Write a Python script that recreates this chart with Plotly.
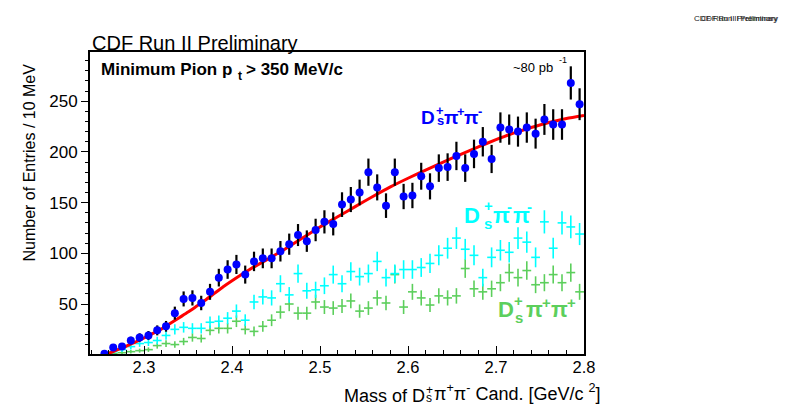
import numpy as np
import plotly.graph_objects as go

# ---------------- data ----------------
bin_low = 2.25          # GeV/c^2, lower edge of first bin
bin_width = 0.01        # 10 MeV bins
n_bins = 55
mass = [round(bin_low + bin_width * (k + 0.5), 3) for k in range(n_bins)]

# right-sign D_s+ pi+ pi-  (blue points)
ds_pip_pim = [1, 7, 8, 14, 17, 19, 24, 28, 41, 55,
              56, 51, 62, 76, 84, 89, 79, 92, 95, 95,
              102, 109, 118, 112, 123, 131, 129, 148, 153, 160,
              180, 165, 147, 180, 156, 157, 176, 166, 184, 185,
              196, 184, 198, 210, 193, 224, 222, 220, 224, 218,
              232, 227, 227, 268, 247]

# wrong-sign D_s+ pi- pi-  (cyan crosses)
ds_pim_pim = [0, 3, 5, 8, 11, 12, 14, 19, 25, 27,
              26, 26, 32, 33, 36, 43, 34, 52, 57, 56,
              70, 59, 80, 63, 64, 68, 79, 70, 82, 77,
              80, 92, 76, 80, 84, 84, 86, 90, 98, 105,
              115, 104, 98, 76, 96, 103, 101, 115, 111, 96,
              131, 105, 130, 126, 119]

# wrong-sign D_s+ pi+ pi+  (green crosses)
ds_pip_pip = [0, 1, 2, 3, 4, 5, 9, 11, 10, 13,
              17, 16, 24, 26, 26, 33, 25, 23, 28, 34,
              42, 50, 41, 41, 52, 47, 46, 48, 53, 43,
              46, 56, 51, 79, 47, 62, 56, 49, 58, 56,
              58, 85, 65, 62, 65, 71, 81, 76, 83, 69,
              71, 79, 71, 81, 62]

# background fit curve (red)
fit_mass = [2.252, 2.26, 2.27, 2.28, 2.29, 2.30, 2.31, 2.32, 2.33, 2.34,
            2.35, 2.36, 2.37, 2.38, 2.39, 2.40, 2.42, 2.44, 2.46, 2.48,
            2.50, 2.52, 2.54, 2.56, 2.58, 2.60, 2.62, 2.64, 2.66, 2.68,
            2.70, 2.72, 2.74, 2.76, 2.78, 2.80]
fit_value = [0, 1.5, 5, 8.5, 12.5, 16.5, 21, 25.5, 31, 36.5,
             42, 48, 54, 60.5, 67, 73, 84, 94, 104, 115,
             126, 136, 146, 156, 165.5, 174, 182, 190, 197.5, 205,
             212, 218.5, 224, 229, 233, 236]

x_tick_vals = [2.3, 2.4, 2.5, 2.6, 2.7, 2.8]
x_tick_text = ["2.3", "2.4", "2.5", "2.6", "2.7", "2.8"]
y_tick_vals = [50, 100, 150, 200, 250]
y_tick_text = ["50", "100", "150", "200", "250"]

# ---------------- styling ----------------
FONT = "Liberation Sans, Arial, Helvetica, sans-serif"
BLUE = "#0000ff"
CYAN = "#00ffff"
GREEN = "#5ccf5c"
RED = "#ff0000"

PAGE_OFF = 8                   # default body margin of the html page
W, H = 798 - PAGE_OFF, 405 - PAGE_OFF
L, R, T, B = 90, 584, 52, 354   # plot frame in window pixels

fig = go.Figure()

def cross_trace(vals, color):
    return go.Scatter(
        x=mass, y=vals, mode="markers",
        marker=dict(size=1, color="rgba(0,0,0,0)"),
        error_x=dict(type="constant", value=bin_width / 2, width=0,
                     thickness=1.6, color=color),
        error_y=dict(type="data", array=np.sqrt(vals), width=0,
                     thickness=1.6, color=color),
        hoverinfo="skip", showlegend=False)

fig.add_trace(cross_trace(ds_pip_pip, GREEN))
fig.add_trace(cross_trace(ds_pim_pim, CYAN))

fig.add_trace(go.Scatter(
    x=fit_mass, y=fit_value, mode="lines",
    line=dict(color=RED, width=3, shape="spline", smoothing=0.6),
    hoverinfo="skip", showlegend=False))

fig.add_trace(go.Scatter(
    x=mass, y=ds_pip_pim, mode="markers",
    marker=dict(symbol="circle", size=8, color=BLUE, line=dict(width=0)),
    error_y=dict(type="data", array=np.sqrt(ds_pip_pim), width=0,
                 thickness=2.2, color="black"),
    hoverinfo="skip", showlegend=False))

fig.update_layout(
    width=W, height=H,
    margin=dict(l=L - PAGE_OFF, r=W - (R - PAGE_OFF), t=T - PAGE_OFF,
                b=H - (B - PAGE_OFF), pad=0),
    paper_bgcolor="white", plot_bgcolor="white",
    showlegend=False, hovermode=False,
    font=dict(family=FONT, color="black"),
    xaxis=dict(
        range=[2.2386, 2.8], tickvals=x_tick_vals, ticktext=x_tick_text,
        ticks="inside", ticklen=8, tickwidth=1, tickcolor="black",
        minor=dict(ticks="inside", ticklen=4, dtick=0.02, tick0=2.24,
                   tickcolor="black", tickwidth=1),
        showline=True, linewidth=2, linecolor="black", mirror=True,
        showgrid=False, zeroline=False, ticklabelstandoff=-3,
        tickfont=dict(family=FONT, size=16.5, color="black")),
    yaxis=dict(
        range=[0.7, 298.5], tickvals=y_tick_vals, ticktext=y_tick_text,
        ticks="outside", ticklen=7, tickwidth=1, tickcolor="black",
        minor=dict(ticks="outside", ticklen=3.5, dtick=10, tick0=0,
                   tickcolor="black", tickwidth=1),
        showline=True, linewidth=2, linecolor="black", mirror=True,
        showgrid=False, zeroline=False,
        tickfont=dict(family=FONT, size=17, color="black")),
)

def px(x):
    return (x - L) / (R - L)

def py(y):
    return (B - y) / (B - T)

def add_text(x, y, text, size, color="black", bold=False,
             xanchor="left", yanchor="middle", angle=0):
    fig.add_annotation(
        xref="paper", yref="paper", x=px(x), y=py(y),
        text=f"<b>{text}</b>" if bold else text,
        showarrow=False, xanchor=xanchor, yanchor=yanchor,
        textangle=angle, borderpad=0,
        font=dict(family=FONT, size=size, color=color))

# titles
add_text(91, 42.5, "CDF Run II Preliminary", 20)
add_text(779, 18, "CDF Run II Preliminary", 7.5, color="#222222",
         xanchor="right")
add_text(779, 18, "CDF Run II Preliminary", 8.1, color="#222222",
         xanchor="right")

add_text(100, 69.7, "Minimum Pion p", 17, bold=True)
add_text(236.5, 76, "t", 12, bold=True)
add_text(245, 69.7, "&gt; 350 MeV/c", 17, bold=True)

add_text(511.7, 67.5, "~80 pb", 13)
add_text(558, 60.5, "-1", 9)

# channel labels: D (stacked +/s) pi pi
def channel_label(x0, yc, size, color, sign1, sign2, xs, ysup, ysub, ysup2):
    small = size * 0.68
    add_text(x0, yc, "D", size, color, bold=True)
    add_text(xs[0], ysup, "+", small, color, bold=True)
    add_text(xs[0] + 0.5, ysub, "s", small, color, bold=True)
    add_text(xs[1], yc, "π", size, color, bold=True)
    add_text(xs[2], ysup2, sign1, small, color, bold=True)
    add_text(xs[3], yc, "π", size, color, bold=True)
    add_text(xs[4], ysup2, sign2, small, color, bold=True)

channel_label(420, 117.5, 19, BLUE, "+", "-",
              [435, 442.7, 456, 462.7, 476.7], 110, 120, 111)
channel_label(463.3, 215, 22, CYAN, "-", "-",
              [482.7, 492.3, 505.8, 512.0, 526.0], 206, 223.5, 206.5)
channel_label(496.7, 309, 22, GREEN, "+", "+",
              [513, 525, 541.2, 550, 566.2], 300, 317, 302)

# axis titles
add_text(28.5, 163, "Number of Entries / 10 MeV", 16,
         xanchor="center", angle=-90)
add_text(343, 395.5, "Mass of D", 18)
add_text(425, 389.5, "+", 12)
add_text(425.3, 398.3, "s", 12)
add_text(433, 392.5, "π<sup>+</sup>π<sup>-</sup> Cand. [GeV/c <sup>2</sup>]", 18)

fig.write_html("out.html")
